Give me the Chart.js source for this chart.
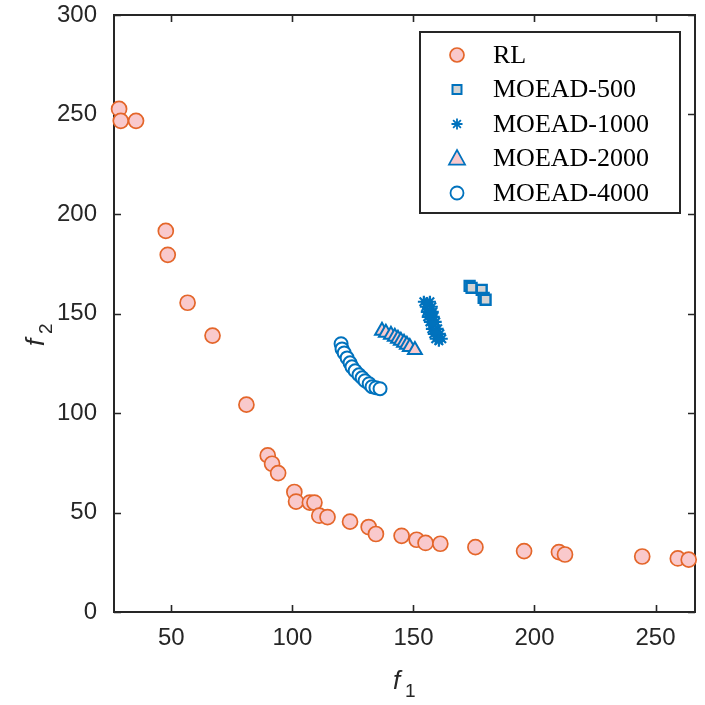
<!DOCTYPE html>
<html>
<head>
<meta charset="utf-8">
<script src="https://cdn.jsdelivr.net/npm/chart.js@4/dist/chart.umd.min.js"></script>
<style>
html,body{margin:0;padding:0;background:#fff;}
#wrap{width:705px;height:705px;position:relative;}
</style>
</head>
<body>
<div id="wrap"><canvas id="c" width="705" height="705"></canvas></div>
<script>
// ---- data ----
const seriesNames = ["RL", "MOEAD-500", "MOEAD-1000", "MOEAD-2000", "MOEAD-4000"];
const xTicks = [50, 100, 150, 200, 250];
const yTicks = [0, 50, 100, 150, 200, 250, 300];

const rlX = [28.4, 29.1, 35.4, 47.7, 48.5, 56.7, 67.0, 81.0, 89.8, 91.6, 94.1, 100.8, 101.5, 107.2, 109.1, 111.1, 114.5, 123.8, 131.5, 134.5, 145.1, 151.3, 155.0, 161.1, 175.6, 195.7, 210.1, 212.6, 244.5, 259.2, 263.7];
const rlY = [252.8, 246.8, 246.8, 191.5, 179.5, 155.4, 138.9, 104.2, 78.7, 74.5, 69.8, 60.3, 55.5, 55.0, 55.0, 48.4, 47.7, 45.4, 42.7, 39.2, 38.3, 36.3, 34.7, 34.3, 32.6, 30.6, 30.1, 28.9, 27.9, 26.9, 26.3];

const m500X = [173.2, 174.0, 178.2, 179.0, 179.8];
const m500Y = [163.9, 162.9, 161.9, 157.9, 156.9];

const m1000X = [154.3, 156.8, 155.1, 157.6, 155.5, 158.0, 155.9, 158.4, 156.8, 159.2, 157.6, 160.0, 158.4, 160.9, 159.2, 161.7, 155.5, 156.8, 158.0, 159.2, 160.5];
const m1000Y = [155.9, 155.9, 153.4, 153.4, 150.8, 150.8, 148.3, 148.3, 145.8, 145.8, 142.3, 142.3, 139.8, 139.8, 137.3, 137.3, 154.9, 149.8, 144.8, 140.8, 136.3];

const m2000X = [137.0, 138.6, 140.7, 142.3, 143.6, 144.8, 146.1, 147.3, 148.5, 150.6];
const m2000Y = [141.3, 140.3, 139.3, 138.3, 137.3, 136.3, 135.3, 134.3, 133.2, 131.7];

const m4000X = [120.1, 120.5, 121.4, 122.6, 123.8, 124.6, 125.9, 127.5, 128.8, 130.0, 131.7, 132.9, 134.5, 136.2];
const m4000Y = [134.8, 132.2, 130.2, 127.7, 125.2, 123.2, 121.2, 119.2, 117.7, 116.2, 114.7, 113.2, 112.7, 112.2];

const xRange = [26.3, 266.3];
const yRange = [0, 300];

// ---- styles ----
const ORANGE = '#E4662A';
const PINK = '#F9C9CC';
const BLUE = '#0072BD';
const GRAY = '#D3D3D3';
const AXIS = '#262626';

function pts(xs, ys){ return xs.map((x,i)=>({x:x, y:ys[i]})); }

const datasets = [
  {label: seriesNames[0], data: pts(rlX, rlY), pointStyle:'circle', pointRadius:7.5, backgroundColor:PINK, borderColor:ORANGE, borderWidth:1.7},
  {label: seriesNames[1], data: pts(m500X, m500Y), pointStyle:'rect', pointRadius:7, backgroundColor:GRAY, borderColor:BLUE, borderWidth:2.4},
  {label: seriesNames[2], data: pts(m1000X, m1000Y), pointStyle:'star', pointRadius:6, backgroundColor:BLUE, borderColor:BLUE, borderWidth:2.2},
  {label: seriesNames[3], data: pts(m2000X, m2000Y), pointStyle:'triangle', pointRadius:8, backgroundColor:PINK, borderColor:BLUE, borderWidth:2},
  {label: seriesNames[4], data: pts(m4000X, m4000Y), pointStyle:'circle', pointRadius:6.5, backgroundColor:'#ffffff', borderColor:BLUE, borderWidth:2}
];
datasets.forEach(d => { d.clip = false; d.pointHoverRadius = d.pointRadius; });

function drawMarker(ctx, style, x, y, r, fill, stroke, lw){
  ctx.save();
  ctx.fillStyle = fill; ctx.strokeStyle = stroke; ctx.lineWidth = lw;
  ctx.beginPath();
  if (style === 'circle') {
    ctx.arc(x, y, r, 0, Math.PI*2);
    ctx.fill(); ctx.stroke();
  } else if (style === 'rect') {
    ctx.rect(x-r, y-r, 2*r, 2*r); ctx.fill(); ctx.stroke();
  } else if (style === 'triangle') {
    ctx.moveTo(x, y - r);
    ctx.lineTo(x + r*0.95, y + r*0.72);
    ctx.lineTo(x - r*0.95, y + r*0.72);
    ctx.closePath(); ctx.fill(); ctx.stroke();
  } else if (style === 'star') {
    for (let k=0;k<4;k++){
      const a = k*Math.PI/4;
      ctx.moveTo(x - r*Math.cos(a), y - r*Math.sin(a));
      ctx.lineTo(x + r*Math.cos(a), y + r*Math.sin(a));
    }
    ctx.stroke();
  }
  ctx.restore();
}

const framePlugin = {
  id: 'frame',
  beforeDatasetsDraw(chart){
    const {ctx, chartArea:a, scales} = chart;
    ctx.save();
    ctx.strokeStyle = AXIS; ctx.lineWidth = 2;
    ctx.strokeRect(a.left, a.top, a.right - a.left, a.bottom - a.top);
    ctx.lineWidth = 1.6;
    const tl = 7;
    ctx.beginPath();
    xTicks.forEach(v => {
      const p = Math.round(scales.x.getPixelForValue(v)) + 0.5;
      ctx.moveTo(p, a.bottom); ctx.lineTo(p, a.bottom - tl);
      ctx.moveTo(p, a.top); ctx.lineTo(p, a.top + tl);
    });
    yTicks.forEach(v => {
      const p = Math.round(scales.y.getPixelForValue(v)) + 0.5;
      ctx.moveTo(a.left, p); ctx.lineTo(a.left + tl, p);
      ctx.moveTo(a.right, p); ctx.lineTo(a.right - tl, p);
    });
    ctx.stroke();
    ctx.restore();
  },
  afterDraw(chart){
    const {ctx} = chart;
    ctx.save();
    // axis titles
    ctx.fillStyle = AXIS;
    ctx.textBaseline = 'alphabetic';
    ctx.font = 'italic 26px "Liberation Sans", Arial, sans-serif';
    ctx.fillText('f', 393, 689);
    ctx.font = '19px "Liberation Sans", Arial, sans-serif';
    ctx.fillText('1', 405, 697);
    ctx.translate(44, 346);
    ctx.rotate(-Math.PI/2);
    ctx.font = 'italic 26px "Liberation Sans", Arial, sans-serif';
    ctx.fillText('f', 0, 0);
    ctx.font = '19px "Liberation Sans", Arial, sans-serif';
    ctx.fillText('2', 12, 8);
    ctx.restore();

    // legend
    ctx.save();
    const bx = 420, by = 32, bw = 260, bh = 181;
    ctx.fillStyle = '#ffffff';
    ctx.fillRect(bx, by, bw, bh);
    ctx.strokeStyle = AXIS; ctx.lineWidth = 2;
    ctx.strokeRect(bx, by, bw, bh);
    const rows = [55, 89.5, 124, 158.5, 193];
    const mk = [
      ['circle', 7, PINK, ORANGE, 1.7],
      ['rect', 4.5, GRAY, BLUE, 2],
      ['star', 5.5, BLUE, BLUE, 1.8],
      ['triangle', 8.5, PINK, BLUE, 1.7],
      ['circle', 6.5, '#ffffff', BLUE, 1.8]
    ];
    ctx.font = '26px "Liberation Serif", "Times New Roman", serif';
    ctx.textBaseline = 'middle';
    seriesNames.forEach((name, i) => {
      const m = mk[i];
      drawMarker(ctx, m[0], 457, rows[i], m[1], m[2], m[3], m[4]);
      ctx.fillStyle = '#000000';
      ctx.fillText(name, 493, rows[i] + 1);
    });
    ctx.restore();
  }
};

new Chart(document.getElementById('c'), {
  type: 'scatter',
  data: { datasets: datasets },
  options: {
    responsive: false,
    devicePixelRatio: 1,
    animation: false,
    events: [],
    layout: { padding: { left: 0, right: 8, top: 15, bottom: 0 } },
    plugins: { legend: { display: false }, tooltip: { enabled: false } },
    scales: {
      x: {
        type: 'linear', min: xRange[0], max: xRange[1],
        grid: { display: false, drawTicks: false },
        border: { display: false },
        afterBuildTicks: s => { s.ticks = xTicks.map(v => ({value: v})); },
        afterFit: s => { s.height = 93; s.paddingLeft = 0; s.paddingRight = 0; },
        ticks: { padding: 12, color: AXIS, font: { family: '"Liberation Sans", Arial, sans-serif', size: 24 }, maxRotation: 0 }
      },
      y: {
        type: 'linear', min: yRange[0], max: yRange[1],
        grid: { display: false, drawTicks: false },
        border: { display: false },
        afterBuildTicks: s => { s.ticks = yTicks.map(v => ({value: v})); },
        afterFit: s => { s.width = 114; s.paddingTop = 0; s.paddingBottom = 0; },
        ticks: { padding: 17, color: AXIS, font: { family: '"Liberation Sans", Arial, sans-serif', size: 24 } }
      }
    }
  },
  plugins: [framePlugin]
});
</script>
</body>
</html>
